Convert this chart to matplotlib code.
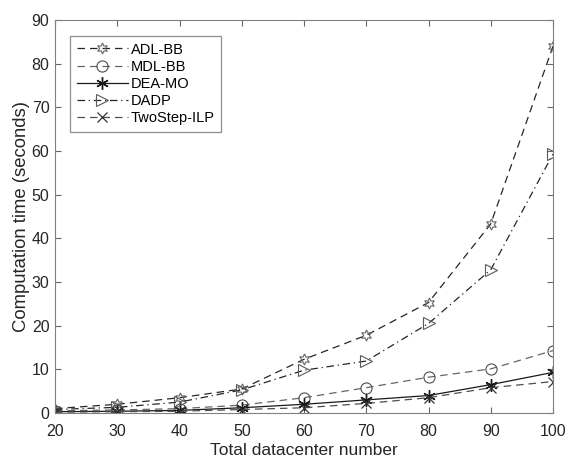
import matplotlib
matplotlib.use("Agg")
import matplotlib.pyplot as plt

plt.rcParams['font.family'] = ['Liberation Sans', 'DejaVu Sans']

x = [20, 30, 40, 50, 60, 70, 80, 90, 100]
adl_bb = [1.0, 2.0, 3.5, 5.5, 12.3, 17.8, 25.3, 43.3, 84.0]
mdl_bb = [0.5, 0.7, 1.0, 1.8, 3.5, 5.8, 8.2, 10.1, 14.3]
dea_mo = [0.3, 0.4, 0.6, 1.2, 2.0, 3.0, 4.0, 6.5, 9.3]
dadp = [0.8, 1.3, 2.5, 5.3, 9.8, 11.9, 20.5, 32.8, 59.3]
twostep = [0.2, 0.3, 0.4, 0.8, 1.2, 2.2, 3.5, 5.8, 7.2]
labels = ['ADL-BB', 'MDL-BB', 'DEA-MO', 'DADP', 'TwoStep-ILP']

fig = plt.figure(figsize=(5.7, 4.59), dpi=100)
ax = fig.add_axes([55/570, 1 - 413/459, 498/570, 393/459])

dash = (0, (6, 4))
ax.plot(x, adl_bb, linestyle=dash, color='0.15', lw=0.9, marker=(6, 1, 0), ms=8,
        mfc='none', mec='0.4', mew=0.8, label=labels[0])
ax.plot(x, mdl_bb, linestyle=dash, color='0.4', lw=0.9, marker='o', ms=8,
        mfc='none', mec='0.3', mew=0.8, label=labels[1])
ax.plot(x, dea_mo, linestyle='-', color='0.1', lw=0.9, marker=(6, 2, 0), ms=9,
        mec='0.1', mew=1.0, label=labels[2])
ax.plot(x, dadp, linestyle=(0, (6, 3, 1, 3)), color='0.15', lw=0.9, marker='>', ms=9,
        mfc='none', mec='0.35', mew=0.8, label=labels[3])
ax.plot(x, twostep, linestyle=dash, color='0.3', lw=0.9, marker='x', ms=7,
        mec='0.2', mew=0.9, label=labels[4])

ax.set_xlim(20, 100)
ax.set_ylim(0, 90)
ax.set_xticks(range(20, 101, 10))
ax.set_yticks(range(0, 91, 10))
ax.tick_params(direction='in', top=True, right=True, labelsize=11.5, length=4,
               color='0.4', labelcolor='0.15')
ax.tick_params(axis='x', pad=8)
ax.tick_params(axis='y', pad=4)
for s in ax.spines.values():
    s.set_color('0.5')
ax.set_xlabel('Total datacenter number', fontsize=12.5, color='0.15', labelpad=3)
ax.set_ylabel('Computation time (seconds)', fontsize=13.3, color='0.15', labelpad=1)

leg = ax.legend(loc='upper left', fontsize=10.5, fancybox=False, edgecolor='0.45',
                handlelength=3.5, borderpad=0.45, labelspacing=0.22,
                handletextpad=0.2, borderaxespad=0,
                bbox_to_anchor=(15/498, 1 - 16/393))
leg.get_frame().set_linewidth(0.9)

fig.savefig('out.png', dpi=100)
